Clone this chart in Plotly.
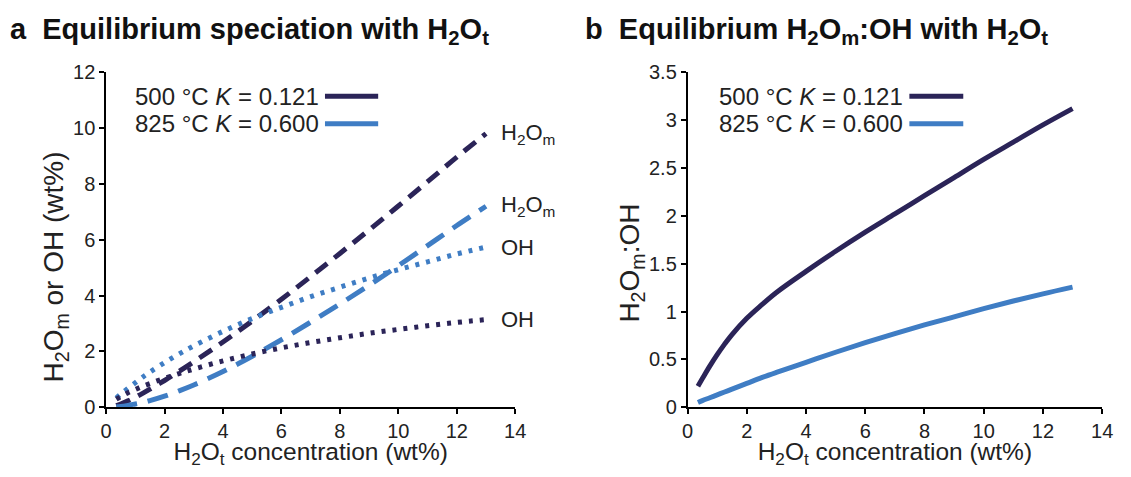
import plotly.graph_objects as go
from plotly.subplots import make_subplots

# H2O total concentration (wt%)
h2ot = [0.35, 0.5, 0.75, 1, 1.25, 1.5, 2, 2.5, 3, 4, 5, 6, 7, 8, 9, 10, 11, 12, 13]

# 500 C, K = 0.121
h2om_500 = [0.06, 0.12, 0.23, 0.36, 0.50, 0.65, 0.96, 1.29, 1.63, 2.34, 3.09, 3.87, 4.68, 5.51, 6.35, 7.21, 8.08, 8.96, 9.80]
oh_500 = [0.29, 0.38, 0.52, 0.64, 0.75, 0.85, 1.04, 1.21, 1.37, 1.66, 1.91, 2.13, 2.32, 2.49, 2.65, 2.79, 2.92, 3.04, 3.14]
ratio_500 = [0.22, 0.30, 0.43, 0.55, 0.66, 0.76, 0.93, 1.07, 1.20, 1.42, 1.63, 1.83, 2.02, 2.21, 2.40, 2.59, 2.77, 2.95, 3.12]

# 825 C, K = 0.600
h2om_825 = [0.02, 0.03, 0.07, 0.12, 0.17, 0.24, 0.40, 0.59, 0.80, 1.28, 1.83, 2.42, 3.05, 3.70, 4.37, 5.07, 5.79, 6.51, 7.20]
oh_825 = [0.33, 0.47, 0.68, 0.88, 1.08, 1.26, 1.60, 1.91, 2.20, 2.72, 3.18, 3.58, 3.96, 4.30, 4.63, 4.93, 5.21, 5.49, 5.74]
ratio_825 = [0.05, 0.07, 0.10, 0.13, 0.16, 0.19, 0.25, 0.31, 0.365, 0.47, 0.575, 0.675, 0.77, 0.86, 0.945, 1.03, 1.11, 1.185, 1.255]

legend_labels = ["500 °C <i>K</i> = 0.121", "825 °C <i>K</i> = 0.600"]

DARK = "#2b2458"
LIGHT = "#3f7dc4"
FONT = "Liberation Sans, Arial, sans-serif"
TXT = "#222222"

# page has an 8px body margin, so the figure is drawn 16px smaller
W, H = 1115, 461
OFF = 8


def px(x):
    return (x - OFF) / W


def py(y):
    return 1 - (y - OFF) / H


fig = make_subplots(rows=1, cols=2)

# panel a
fig.add_trace(go.Scatter(x=h2ot, y=h2om_500, mode="lines", line=dict(color=DARK, width=5, dash="15px,9px", shape="spline")), row=1, col=1)
fig.add_trace(go.Scatter(x=h2ot, y=h2om_825, mode="lines", line=dict(color=LIGHT, width=5, dash="21px,11px", shape="spline")), row=1, col=1)
fig.add_trace(go.Scatter(x=h2ot, y=oh_825, mode="lines", line=dict(color=LIGHT, width=5, dash="4px,7px", shape="spline")), row=1, col=1)
fig.add_trace(go.Scatter(x=h2ot, y=oh_500, mode="lines", line=dict(color=DARK, width=5, dash="4px,7px", shape="spline")), row=1, col=1)

# panel b
fig.add_trace(go.Scatter(x=h2ot, y=ratio_500, mode="lines", line=dict(color=DARK, width=5, shape="spline")), row=1, col=2)
fig.add_trace(go.Scatter(x=h2ot, y=ratio_825, mode="lines", line=dict(color=LIGHT, width=5, shape="spline")), row=1, col=2)

ax = dict(showgrid=False, zeroline=False, showline=True, linecolor="black", linewidth=1.5,
          ticks="outside", ticklen=5, tickwidth=1.5, tickcolor="black",
          tickfont=dict(family=FONT, size=20, color=TXT))

fig.update_xaxes(ax, range=[0, 14], dtick=2,
                 title=dict(text="H<sub>2</sub>O<sub>t</sub> concentration (wt%)", font=dict(family=FONT, size=24.5, color=TXT), standoff=10))
fig.update_yaxes(ax)
# trailing spaces push the rotated titles a little below the axis middle, as in the original
fig.update_yaxes(range=[0, 12], dtick=2, row=1, col=1,
                 title=dict(text="H<sub>2</sub>O<sub>m</sub> or OH (wt%)" + "&nbsp;" * 7,
                            font=dict(family=FONT, size=28, color=TXT), standoff=0))
fig.update_yaxes(range=[0, 3.5], dtick=0.5, row=1, col=2,
                 title=dict(text="H<sub>2</sub>O<sub>m</sub>:OH" + "&nbsp;" * 6,
                            font=dict(family=FONT, size=28, color=TXT), standoff=0))

yd = [py(416.7), py(64)]
fig.update_layout(
    xaxis=dict(domain=[px(101.5), px(517)]),
    xaxis2=dict(domain=[px(692), px(1113)]),
    yaxis=dict(domain=yd),
    yaxis2=dict(domain=yd),
)

# panel titles
fig.add_annotation(text="<b>a  Equilibrium speciation with H<sub>2</sub>O<sub>t</sub></b>", xref="paper", yref="paper",
                   x=px(2), y=py(21), xanchor="left", yanchor="middle", showarrow=False,
                   font=dict(family=FONT, size=29, color="#111111"))
fig.add_annotation(text="<b>b  Equilibrium H<sub>2</sub>O<sub>m</sub>:OH with H<sub>2</sub>O<sub>t</sub></b>", xref="paper", yref="paper",
                   x=px(586), y=py(21), xanchor="left", yanchor="middle", showarrow=False,
                   font=dict(family=FONT, size=29, color="#111111"))

# legends (text then line sample), both panels
for xr, yr in [("x", "y"), ("x2", "y2")]:
    for i, (lab, col) in enumerate(zip(legend_labels, [DARK, LIGHT])):
        yy = 0.928 - i * 0.082
        fig.add_annotation(text=lab, xref=xr + " domain", yref=yr + " domain", x=0.525, y=yy,
                           xanchor="right", yanchor="middle", showarrow=False,
                           font=dict(family=FONT, size=24, color=TXT))
        fig.add_shape(type="line", xref=xr + " domain", yref=yr + " domain", x0=0.535, x1=0.665, y0=yy, y1=yy,
                      line=dict(color=col, width=5))

# end labels on panel a
for yv, lab in [(h2om_500[-1], "H<sub>2</sub>O<sub>m</sub>"), (h2om_825[-1], "H<sub>2</sub>O<sub>m</sub>"),
                (oh_825[-1], "OH"), (oh_500[-1], "OH")]:
    fig.add_annotation(text=lab, x=h2ot[-1], y=yv, xref="x", yref="y", xanchor="left", yanchor="middle",
                       xshift=13, showarrow=False, font=dict(family=FONT, size=22, color=TXT))

fig.update_layout(width=W, height=H, margin=dict(l=0, r=0, t=0, b=0), showlegend=False,
                  plot_bgcolor="white", paper_bgcolor="white")

fig.write_html("out.html")
